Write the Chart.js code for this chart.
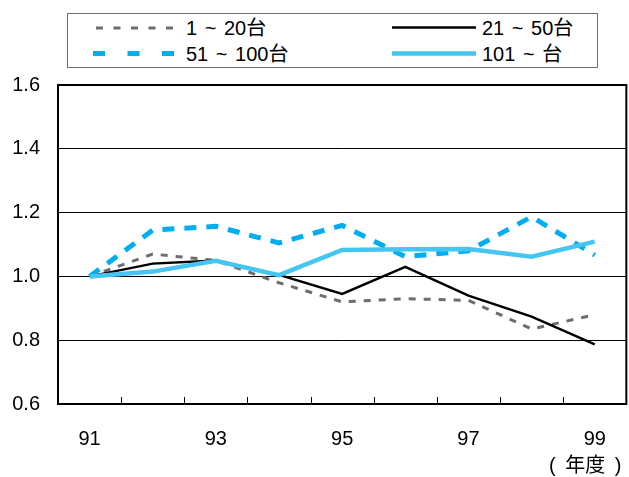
<!DOCTYPE html>
<html>
<head>
<meta charset="utf-8">
<script src="https://cdn.jsdelivr.net/npm/chart.js@4/dist/chart.umd.min.js"></script>
<style>
  html, body { margin: 0; padding: 0; background: #fff; }
  #wrap { position: relative; width: 629px; height: 477px;
    font-family: "Liberation Sans", Arial, "Noto Sans CJK JP", sans-serif; color: #000; }
  #c { position: absolute; left: 0; top: 0; }
  .legend {
    position: absolute; left: 67px; top: 13px; width: 529px; height: 53px;
    border: 1px solid #6e6e6e; background: #fff;
  }
  .swatch { position: absolute; }
  .label {
    position: absolute; height: 22px; line-height: 22px; white-space: nowrap;
    font-size: 20px; word-spacing: 2px;
  }
  .unit {
    position: absolute; left: 549px; top: 454px; height: 22px; line-height: 22px;
    font-size: 20px; white-space: nowrap; word-spacing: 4px;
  }
</style>
</head>
<body>
<div id="wrap">
  <canvas id="c" width="629" height="477"></canvas>
  <div class="legend"></div>
  <svg class="swatch" style="left:0; top:0;" width="629" height="80">
    <line x1="96" y1="28" x2="175" y2="28" stroke="#6d6d6d" stroke-width="3" stroke-dasharray="7,10.5"/>
    <line x1="392" y1="27.5" x2="476" y2="27.5" stroke="#000" stroke-width="2.4"/>
    <line x1="93" y1="53.5" x2="174" y2="53.5" stroke="#00aeef" stroke-width="5" stroke-dasharray="12,22.5"/>
    <line x1="392" y1="53.5" x2="476" y2="53.5" stroke="#45c5f2" stroke-width="4.7"/>
  </svg>
  <div class="label" style="left:186px; top:17px;">1 ~ 20台</div>
  <div class="label" style="left:482px; top:17px;">21 ~ 50台</div>
  <div class="label" style="left:186px; top:43px;">51 ~ 100台</div>
  <div class="label" style="left:482px; top:43px;">101 ~ 台</div>
  <div class="unit">( 年度 )</div>
</div>
<script>
// Fiscal years and index values (1991 = 1.0) by fleet size
const years = ["91", "92", "93", "94", "95", "96", "97", "98", "99"];
const fleet1to20   = [1.00, 1.07, 1.05, 0.98, 0.92, 0.93, 0.925, 0.835, 0.88];
const fleet21to50  = [1.00, 1.04, 1.05, 1.005, 0.945, 1.03, 0.94, 0.874, 0.787];
const fleet51to100 = [1.00, 1.145, 1.157, 1.105, 1.16, 1.062, 1.08, 1.187, 1.067];
const fleet101up   = [1.00, 1.015, 1.049, 1.004, 1.083, 1.085, 1.086, 1.062, 1.109];
const yTicks = [0.6, 0.8, 1.0, 1.2, 1.4, 1.6];

const fontFamily = '"Liberation Sans", Arial, sans-serif';

// Frame around the plotting area plus short inward ticks between years
const framePlugin = {
  id: 'frame',
  afterDraw(chart) {
    const { ctx, chartArea: a } = chart;
    const xs = chart.scales.x;
    ctx.save();
    ctx.strokeStyle = '#000';
    ctx.lineWidth = 1;
    for (let i = 0; i < years.length - 1; i++) {
      const x = Math.round((xs.getPixelForValue(i) + xs.getPixelForValue(i + 1)) / 2) + 0.5;
      ctx.beginPath();
      ctx.moveTo(x, a.bottom);
      ctx.lineTo(x, a.bottom - 7);
      ctx.stroke();
    }
    ctx.lineWidth = 2;
    ctx.strokeRect(a.left, a.top, a.right - a.left, a.bottom - a.top);
    ctx.restore();
  }
};

new Chart(document.getElementById('c'), {
  type: 'line',
  data: {
    labels: years,
    datasets: [
      { label: '101 ~ 台', data: fleet101up, borderColor: '#45c5f2', borderWidth: 4.5, order: 0 },
      { label: '21 ~ 50台', data: fleet21to50, borderColor: '#000000', borderWidth: 2.4, order: 1 },
      { label: '51 ~ 100台', data: fleet51to100, borderColor: '#00aeef', borderWidth: 5, borderDash: [12, 10], order: 2 },
      { label: '1 ~ 20台', data: fleet1to20, borderColor: '#6d6d6d', borderWidth: 3, borderDash: [7, 8], order: 3 }
    ]
  },
  options: {
    responsive: false,
    animation: false,
    devicePixelRatio: 1,
    layout: { padding: { top: 85, right: 2, left: 0, bottom: 0 } },
    elements: { point: { radius: 0 }, line: { tension: 0, borderCapStyle: 'butt', fill: false } },
    plugins: { legend: { display: false }, tooltip: { enabled: false } },
    scales: {
      x: {
        type: 'category',
        offset: true,
        grid: { display: false, drawTicks: false },
        border: { display: false },
        ticks: {
          autoSkip: false,
          maxRotation: 0,
          padding: 23,
          color: '#000',
          font: { family: fontFamily, size: 20 },
          callback: (v, i) => (i % 2 === 0 ? years[i] : '')
        },
        afterFit: s => { s.height = 73; }
      },
      y: {
        min: yTicks[0],
        max: yTicks[yTicks.length - 1],
        afterBuildTicks: s => { s.ticks = yTicks.map(v => ({ value: v })); },
        grid: { color: '#000', lineWidth: 1, drawTicks: false },
        border: { display: false },
        ticks: {
          padding: 18,
          color: '#000',
          font: { family: fontFamily, size: 20 },
          callback: v => Number(v).toFixed(1)
        },
        afterFit: s => { s.width = 58; }
      }
    }
  },
  plugins: [framePlugin]
});
</script>
</body>
</html>
